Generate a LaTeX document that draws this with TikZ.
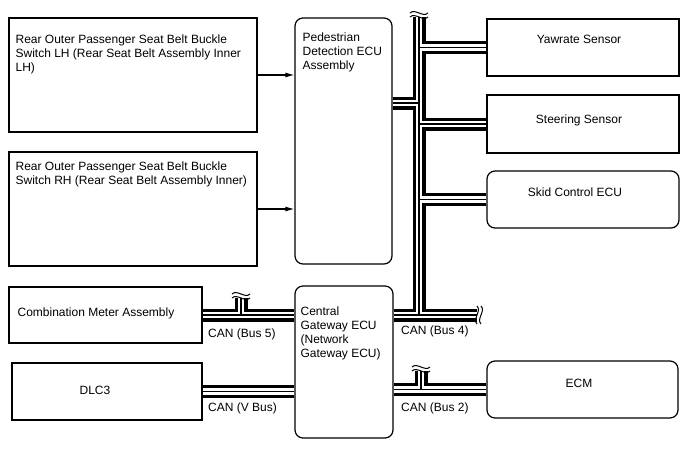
\documentclass[tikz,border=0pt]{standalone}
\usepackage{fontspec}
\setmainfont{Liberation Sans}
\usetikzlibrary{arrows.meta}
\usetikzlibrary{calc}
\usetikzlibrary{backgrounds}

\begin{document}
\begin{tikzpicture}[x=1pt,y=-1pt,>={Latex[length=9pt,width=5pt]},
  box/.style={draw, line width=1.2pt, inner sep=0pt},
  ecu/.style={box, rounded corners=8pt},
  txt/.style={inner sep=0pt, align=left, font=\fontsize{12}{14}\selectfont},
  canbus/.style={draw, line width=13pt,
    postaction={draw, white, line width=6.5pt},
    postaction={draw, black, line width=1.4pt}},
  wavecut/.pic={
    \draw[line width=1pt] (-9,0) .. controls (-4,-5) and (4,5) .. (9,0);
    \draw[line width=1pt] (-9,-4) .. controls (-4,-9) and (4,1) .. (9,-4);
  }]
\useasboundingbox (0,0) rectangle (688,463);

% left column
\node[box, minimum width=248, minimum height=114] (lh) at (133,75) {};
\node[box, minimum width=248, minimum height=114] (rh) at (133,209) {};
\node[box, minimum width=193, minimum height=56] (comb) at (105.5,315) {};
\node[box, minimum width=190, minimum height=57] (dlc) at (107,391.5) {};

% middle
\node[ecu, minimum width=97, minimum height=246] (ped) at (343.5,141) {};
\node[ecu, minimum width=98, minimum height=152] (gw) at (344,362) {};

% right column
\node[box, minimum width=192, minimum height=57] (yaw) at (583,47.5) {};
\node[box, minimum width=192, minimum height=58] (steer) at (583,124) {};
\node[ecu, minimum width=192, minimum height=57] (skid) at (583,199.5) {};
\node[ecu, minimum width=191, minimum height=57] (ecm) at (582.5,389.5) {};

% texts (base = last line)
\node[txt, anchor=base west] (lhtxt) at ($(lh.north west)+(7,54.5)$)
  {Rear Outer Passenger Seat Belt Buckle\\Switch LH (Rear Seat Belt Assembly Inner\\LH)};
\node[txt, anchor=base west] (rhtxt) at ($(rh.north west)+(7,33)$)
  {Rear Outer Passenger Seat Belt Buckle\\Switch RH (Rear Seat Belt Assembly Inner)};
\node[txt, anchor=base west] (combtxt) at ($(comb.west)+(9,1)$) {Combination Meter Assembly};
\node[txt, anchor=base] (dlctxt) at ($(dlc.center)+(-12,3)$) {DLC3};
\node[txt, anchor=base west] (pedtxt) at ($(ped.north west)+(8,52)$) {Pedestrian\\Detection ECU\\Assembly};
\node[txt, anchor=base west] (gwtxt) at ($(gw.north west)+(6,72)$) {Central\\Gateway ECU\\(Network\\Gateway ECU)};
\node[txt, anchor=base] (yawtxt) at ($(yaw.center)+(-4,-4)$) {Yawrate Sensor};
\node[txt, anchor=base] (steertxt) at ($(steer.center)+(-4,-0.5)$) {Steering Sensor};
\node[txt, anchor=base] (skidtxt) at ($(skid.center)+(-8,-3)$) {Skid Control ECU};
\node[txt, anchor=base] (ecmtxt) at ($(ecm.center)+(-3.5,-2)$) {ECM};

% signal lines
\draw[line width=1.2pt, ->] (lh.east) -- (lh.east -| ped.west);
\draw[line width=1.2pt, ->] (rh.east) -- (rh.east -| ped.west);

% CAN lines
\coordinate (top) at (419,17);
\coordinate (bot) at (419,315);
\coordinate (pj) at (419,103);
\coordinate (b4end) at (477,315);
\coordinate (s5) at (241,298);
\coordinate (s2) at (421,371);

\begin{pgfonlayer}{background}
\path[canbus] (top) -- (bot)
  (pj -| ped.east) -- (pj)
  (yaw.west) -- (yaw.west -| top)
  (steer.west) -- (steer.west -| top)
  (skid.west) -- (skid.west -| top)
  (bot -| gw.east) -- (b4end)
  (comb.east) -- (comb.east -| gw.west)
  (s5 |- comb.east) -- (s5)
  (dlc.east) -- (dlc.east -| gw.west)
  (ecm.west) -- (ecm.west -| gw.east)
  (s2 |- ecm.west) -- (s2);
\end{pgfonlayer}

\pic at (top) {wavecut};
\pic[rotate=-90] at (b4end) {wavecut};
\pic at (s5) {wavecut};
\pic at (s2) {wavecut};

\node[txt, anchor=base west] (can5) at (208,337) {CAN (Bus 5)};
\node[txt, anchor=base west] (canv) at (208,411) {CAN (V Bus)};
\node[txt, anchor=base west] (can4) at (401,334) {CAN (Bus 4)};
\node[txt, anchor=base west] (can2) at (401,411) {CAN (Bus 2)};

\end{tikzpicture}
\end{document}
